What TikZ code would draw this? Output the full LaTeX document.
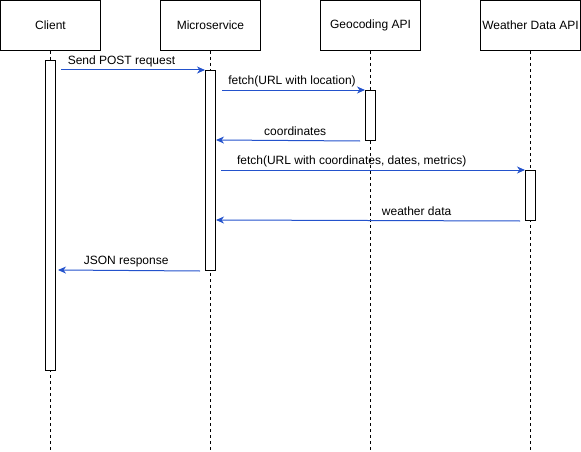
\documentclass[tikz,border=0pt]{standalone}
\usepackage{fontspec}
\setmainfont{Liberation Sans}
\usepackage{xcolor}
\usepackage{tikz}
\usetikzlibrary{arrows.meta,calc,positioning}
\definecolor{msgblue}{HTML}{2352CC}

\begin{document}
\begin{tikzpicture}[x=1pt,y=-1pt,line width=1pt,font=\fontsize{12}{14}\selectfont,
	actor/.style={draw,fill=white,minimum width=100pt,minimum height=50pt,inner sep=0pt},
	activ/.style={draw,fill=white,minimum width=10pt,inner sep=0pt},
	lifeline/.style={dash pattern=on 3pt off 3pt,line width=0.8pt},
	msg/.style={msgblue,-{Stealth[length=8pt,width=7pt,inset=2.5pt]}},
	lbl/.style={black,anchor=base,inner sep=0pt,yshift=5.5pt}]
	\useasboundingbox (0,0) rectangle (581,452);
	% participants
	\node[actor] (client)  at (50.5,25.5)  {Client};
	\node[actor] (service) at (210.5,25.5) {Microservice};
	\node[actor] (geo)     at (370.5,25.5) {Geocoding API};
	\node[actor] (weather) at (530.5,25.5) {Weather Data API};
	\coordinate (clientend)  at (50.5,452);
	\coordinate (serviceend) at (210.5,452);
	\coordinate (geoend)     at (370.5,452);
	\coordinate (weatherend) at (530.5,452);
	\draw[lifeline] (client.south)  -- (clientend);
	\draw[lifeline] (service.south) -- (serviceend);
	\draw[lifeline] (geo.south)     -- (geoend);
	\draw[lifeline] (weather.south) -- (weatherend);
	% activations
	\node[activ,minimum height=310pt] (clientact)  at (50.5,215.5)  {};
	\node[activ,minimum height=200pt] (serviceact) at (210.5,170.5) {};
	\node[activ,minimum height=50pt]  (geoact)     at (370.5,115.5) {};
	\node[activ,minimum height=50pt]  (weatheract) at (530.5,195.5) {};
	% messages
	\draw[msg] ([shift={(5,10)}]clientact.north east) -- (serviceact.north west)
		node[lbl,pos=0.42] {Send POST request};
	\draw[msg] ([shift={(6,20)}]serviceact.north east) -- (geoact.north west)
		node[lbl,pos=0.49] {fetch(URL with location)};
	\draw[msg] ([xshift=-5pt]geoact.south west) -- ([shift={(0,70)}]serviceact.north east)
		node[lbl,pos=0.45] {coordinates};
	\draw[msg] ([shift={(5,100)}]serviceact.north east) -- (weatheract.north west)
		node[lbl,pos=0.43] {fetch(URL with coordinates, dates, metrics)};
	\draw[msg] ([xshift=-5pt]weatheract.south west) -- ([shift={(0,150)}]serviceact.north east)
		node[lbl,pos=0.34] {weather data};
	\draw[msg] ([xshift=-5pt]serviceact.south west) -- ([shift={(2,210)}]clientact.north east)
		node[lbl,pos=0.52] {JSON response};
\end{tikzpicture}
\end{document}
